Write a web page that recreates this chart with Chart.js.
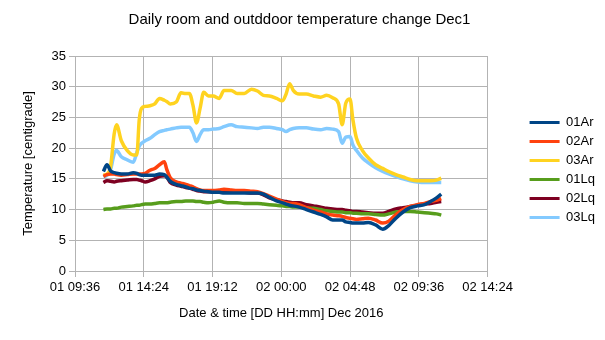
<!DOCTYPE html>
<html lang="en">
<head>
  <meta charset="UTF-8">
  <title>Daily room and outddoor temperature change Dec1</title>
  <script src="https://cdn.jsdelivr.net/npm/chart.js"></script>
  <style>
    body { margin: 0; background: #fff; }
    #wrap { width: 605px; height: 340px; }
  </style>
</head>
<body>
  <div id="wrap"><canvas id="tempChart" width="605" height="340"></canvas></div>

  <script>
  // sample times, "DD HH:mm" in Dec 2016
  const times = [
    '01 11:35','01 11:50','01 12:05','01 12:20','01 12:30','01 12:50','01 13:15','01 13:40','01 13:55','01 14:05',
    '01 14:15','01 14:30','01 14:50','01 15:10','01 15:30','01 15:50','01 16:00','01 16:15','01 16:40','01 17:00',
    '01 17:20','01 17:35','01 17:50','01 18:05','01 18:20','01 18:35','01 18:55','01 19:15','01 19:40','01 20:00',
    '01 20:30','01 20:55','01 21:25','01 21:55','01 22:20','01 22:45','01 23:10','01 23:40','02 00:05','02 00:20',
    '02 00:35','02 00:50','02 01:15','02 01:45','02 02:15','02 02:45','02 03:10','02 03:35','02 04:00','02 04:15',
    '02 04:30','02 04:48','02 05:00','02 05:15','02 05:40','02 06:05','02 06:35','02 07:05','02 07:30','02 08:00',
    '02 08:30','02 09:00','02 09:30','02 10:00','02 10:25','02 10:50','02 11:10'
  ];

  const t01Ar = [
    16.2,17.3,16.3,16.0,15.9,15.8,15.8,16.0,15.9,15.7,
    15.6,15.6,15.6,15.6,15.8,15.7,15.3,14.6,14.1,13.9,
    13.7,13.5,13.4,13.2,13.1,13.0,12.9,12.8,12.8,12.7,
    12.7,12.7,12.7,12.7,12.7,12.5,12.0,11.4,11.1,10.9,
    10.7,10.6,10.4,10.0,9.6,9.2,8.8,8.3,8.3,8.3,
    8.0,7.9,7.8,7.8,7.8,7.9,7.5,6.8,7.4,8.6,
    9.6,10.3,10.6,10.8,11.3,11.9,12.5
  ];
  const t02Ar = [
    15.4,15.7,15.8,15.8,15.7,15.6,15.7,15.8,15.8,15.8,
    15.8,15.9,16.4,16.7,17.3,17.8,16.6,15.2,14.5,14.3,
    14.1,13.9,13.7,13.4,13.2,13.1,13.1,13.1,13.2,13.3,
    13.2,13.1,13.1,13.0,12.9,12.6,12.2,11.7,11.3,11.1,
    11.0,11.0,10.8,10.3,9.9,9.6,9.3,9.1,9.0,8.9,
    8.7,8.6,8.5,8.4,8.5,8.6,8.3,7.8,8.1,9.2,
    10.0,10.5,10.8,11.0,11.3,11.5,11.8
  ];
  const t03Ar = [
    15.6,15.8,17.0,22.3,23.8,21.2,19.6,18.9,18.9,24.6,
    26.5,26.8,26.9,27.2,28.1,27.8,27.6,27.2,27.5,29.0,
    28.9,28.9,27.0,24.1,26.5,29.1,28.5,28.5,28.1,29.4,
    29.4,28.9,28.9,29.6,29.3,28.6,28.5,28.1,27.7,28.8,
    30.5,29.4,28.8,28.8,28.5,28.3,28.6,28.2,27.2,23.8,
    27.3,28.0,24.6,21.6,19.6,18.4,17.3,16.7,16.2,15.7,
    15.3,14.9,14.7,14.7,14.7,14.8,15.1
  ];
  const t01Lq = [
    10.0,10.1,10.1,10.2,10.2,10.4,10.5,10.6,10.7,10.7,
    10.8,10.9,10.9,11.0,11.1,11.1,11.1,11.2,11.3,11.3,
    11.4,11.4,11.4,11.3,11.3,11.2,11.1,11.2,11.4,11.2,
    11.1,11.1,11.0,11.0,11.0,10.9,10.8,10.7,10.6,10.5,
    10.5,10.4,10.4,10.3,10.2,10.0,9.8,9.7,9.6,9.6,
    9.5,9.5,9.4,9.4,9.3,9.3,9.2,9.1,9.3,9.6,
    9.7,9.7,9.6,9.5,9.4,9.3,9.1
  ];
  const t02Lq = [
    14.4,14.7,14.6,14.5,14.6,14.7,14.8,14.9,14.9,14.8,
    14.7,14.5,14.7,15.0,15.4,15.5,15.3,14.4,14.0,13.8,
    13.6,13.5,13.3,13.1,13.0,12.9,12.9,12.9,12.9,12.9,
    12.8,12.8,12.8,12.7,12.7,12.4,11.9,11.6,11.4,11.3,
    11.2,11.1,11.1,10.8,10.6,10.4,10.2,10.1,10.0,10.0,
    9.9,9.8,9.7,9.7,9.6,9.5,9.4,9.4,9.7,10.1,
    10.3,10.5,10.7,10.9,11.0,11.2,11.3
  ];
  const t03Lq = [
    15.3,15.6,16.5,19.0,19.6,18.6,18.1,17.7,19.3,20.3,
    20.8,21.2,21.6,22.2,22.7,22.9,23.0,23.1,23.3,23.4,
    23.4,23.4,22.5,21.1,22.2,23.0,23.0,23.1,23.2,23.5,
    23.8,23.5,23.4,23.3,23.2,23.4,23.4,23.2,23.0,22.7,
    23.0,23.2,23.3,23.3,23.1,23.0,23.2,23.1,22.7,20.8,
    21.8,21.9,20.5,19.6,18.4,17.6,16.8,16.2,15.8,15.4,
    15.0,14.7,14.5,14.4,14.4,14.4,14.4
  ];

  const seriesNames = ['01Ar', '02Ar', '03Ar', '01Lq', '02Lq', '03Lq'];
  const seriesValues = [t01Ar, t02Ar, t03Ar, t01Lq, t02Lq, t03Lq];
  const seriesColors = ['#004586', '#ff420e', '#ffd320', '#579d1c', '#7e0021', '#83caff'];

  // x axis: minutes since 01 00:00, ticks every 4h48
  const xMin = 576, xMax = 2304, xStep = 288;

  function toMinutes(s) {
    const day = parseInt(s.slice(0, 2), 10);
    const hh = parseInt(s.slice(3, 5), 10);
    const mm = parseInt(s.slice(6, 8), 10);
    return (day - 1) * 1440 + hh * 60 + mm;
  }
  function fmtTick(v) {
    const day = Math.floor(v / 1440) + 1;
    const rest = v % 1440;
    const hh = Math.floor(rest / 60), mm = rest % 60;
    const p = n => String(n).padStart(2, '0');
    return p(day) + ' ' + p(hh) + ':' + p(mm);
  }

  const xs = times.map(toMinutes);

  const datasets = seriesNames.map((name, i) => ({
    label: name,
    data: seriesValues[i].map((v, j) => ({ x: xs[j], y: v })),
    borderColor: seriesColors[i],
    backgroundColor: seriesColors[i],
    borderWidth: 3.5,
    pointRadius: 0,
    cubicInterpolationMode: 'monotone',
    tension: 0.3
  }));

  // push the legend away from the plot, keep the title centred on the page
  const legendGap = {
    id: 'legendGap',
    afterLayout(chart) {
      chart.legend.left += 36;
      chart.legend.right += 36;
      chart.titleBlock.left += 15;
      chart.titleBlock.right += 15;
    }
  };

  Chart.defaults.font.family = '"Liberation Sans", Arial, sans-serif';
  Chart.defaults.font.size = 13;
  Chart.defaults.color = '#000';

  const gridColor = '#b3b3b3';
  const defaultLabels = Chart.defaults.plugins.legend.labels.generateLabels;

  new Chart(document.getElementById('tempChart'), {
    type: 'line',
    data: { datasets },
    options: {
      responsive: false,
      devicePixelRatio: 1,
      animation: false,
      layout: { padding: { left: 0, right: 36, top: 0, bottom: 0 } },
      scales: {
        x: {
          type: 'linear',
          min: xMin,
          max: xMax,
          afterFit: s => { s.height = 69; },
          ticks: { stepSize: xStep, callback: v => fmtTick(v), padding: 3, maxRotation: 0, autoSkip: false },
          grid: { color: gridColor, tickLength: 6 },
          border: { color: gridColor },
          title: { display: true, text: 'Date & time [DD HH:mm] Dec 2016', padding: { top: 0, bottom: 19 } }
        },
        y: {
          min: 0,
          max: 35,
          afterFit: s => { s.width = 75; },
          ticks: { stepSize: 5, padding: 3 },
          grid: { color: gridColor, tickLength: 6 },
          border: { color: gridColor },
          title: { display: true, text: 'Temperature [centigrade]', padding: { top: 21, bottom: 0 } }
        }
      },
      plugins: {
        title: {
          display: true,
          text: 'Daily room and outddoor temperature change Dec1',
          font: { size: 15, weight: 'normal' },
          color: '#000',
          padding: { top: 11, bottom: 27 }
        },
        legend: {
          position: 'right',
          labels: {
            boxWidth: 30, boxHeight: 3, padding: 6,
            // flat line swatches, no border round them
            generateLabels: chart => defaultLabels(chart).map(l => ({ ...l, lineWidth: 0 }))
          }
        },
        tooltip: { enabled: false }
      }
    },
    plugins: [legendGap]
  });
  </script>
</body>
</html>
